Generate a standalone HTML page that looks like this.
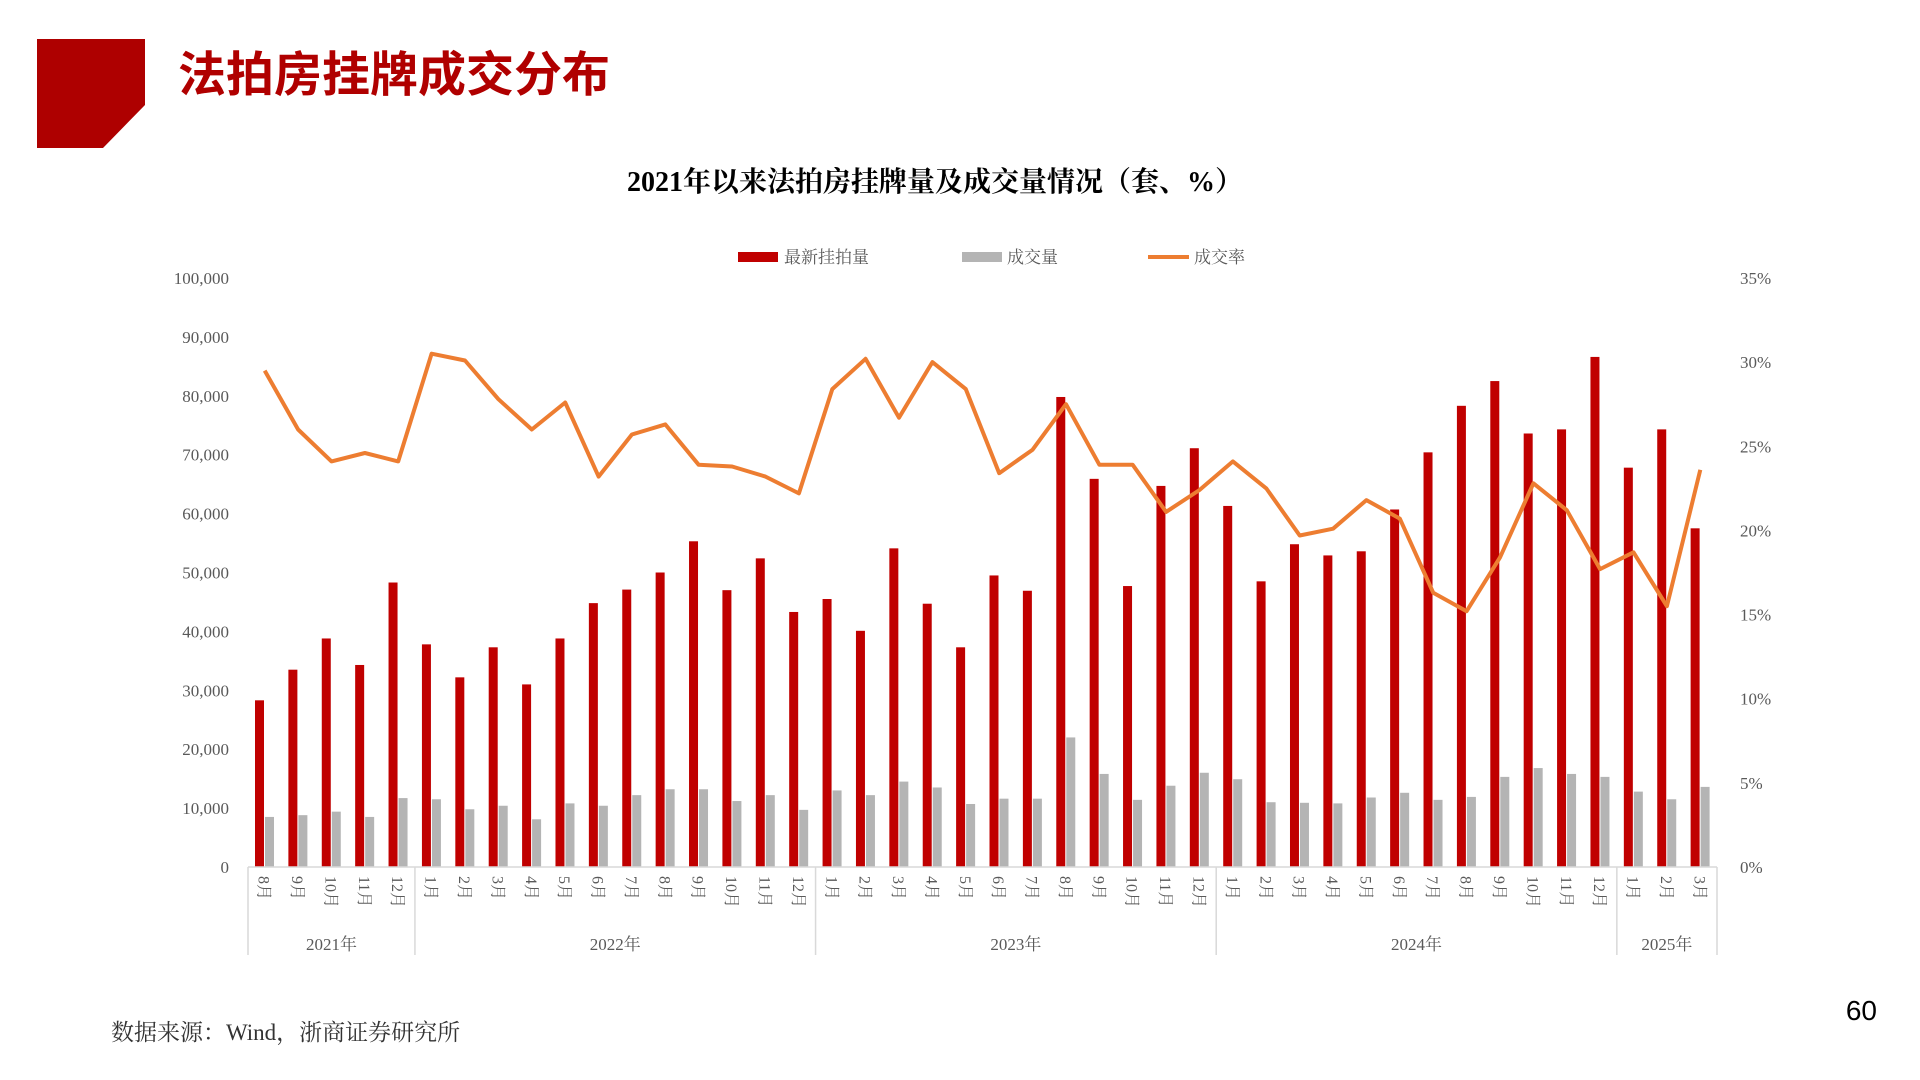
<!DOCTYPE html>
<html><head><meta charset="utf-8"><style>
html,body{margin:0;padding:0;background:#fff;}
body{width:1920px;height:1080px;position:relative;overflow:hidden;font-family:"Liberation Serif","Noto Serif CJK SC",serif;}
</style></head><body>
<svg id="s" width="1920" height="1080" xmlns="http://www.w3.org/2000/svg" style="position:absolute;left:0;top:0">
<polygon points="37,39 145,39 145,105 103,148 37,148" fill="#AE0000"/>
<text x="178" y="91" font-family="Liberation Sans,Noto Sans CJK SC,sans-serif" font-weight="bold" font-size="48" fill="#B00000">法拍房挂牌成交分布</text>
<text x="935" y="191" text-anchor="middle" font-family="Liberation Serif,Noto Serif CJK SC,serif" font-weight="bold" font-size="28" fill="#000">2021年以来法拍房挂牌量及成交量情况（套、%）</text>
<rect x="738" y="252" width="40" height="10" fill="#C00000"/>
<text x="784" y="263" font-size="17" fill="#595959">最新挂拍量</text>
<rect x="962" y="252" width="40" height="10" fill="#B4B4B4"/>
<text x="1007" y="263" font-size="17" fill="#595959">成交量</text>
<line x1="1148" y1="257" x2="1189" y2="257" stroke="#ED7D31" stroke-width="4"/>
<text x="1194" y="263" font-size="17" fill="#595959">成交率</text>
<text x="111" y="1040" font-size="23" fill="#333">数据来源：Wind，浙商证券研究所</text>
<text x="1877" y="1020" text-anchor="end" font-family="Liberation Sans,sans-serif" font-size="28" fill="#000">60</text>
<g id="c"></g>
</svg>
<script>
var red=[28300,33500,38800,34300,48300,37800,32200,37300,31000,38800,44800,47100,50000,55300,47000,52400,43300,45500,40100,54100,44700,37300,49500,46900,79800,65900,47700,64700,71100,61300,48500,54800,52900,53600,60700,70400,78300,82500,73600,74300,86600,67800,74300,57500];
var gray=[8500,8800,9400,8500,11700,11500,9800,10400,8100,10800,10400,12200,13200,13200,11200,12200,9700,13000,12200,14500,13500,10700,11600,11600,22000,15800,11400,13800,16000,14900,11000,10900,10800,11800,12600,11400,11900,15300,16800,15800,15300,12800,11500,13600];
var rate=[29.5,26,24.1,24.6,24.1,30.5,30.1,27.8,26,27.6,23.2,25.7,26.3,23.9,23.8,23.2,22.2,28.4,30.2,26.7,30,28.4,23.4,24.8,27.5,23.9,23.9,21.1,22.4,24.1,22.5,19.7,20.1,21.8,20.7,16.3,15.2,18.4,22.8,21.2,17.7,18.7,15.5,23.6];
var months=[8,9,10,11,12];for(var y=0;y<3;y++)for(var m=1;m<=12;m++)months.push(m);months.push(1,2,3);
var x0=248,x1=1717,n=44,per=(x1-x0)/n,yb=867,yt=278,h=yb-yt;
var o='';
for(var i=0;i<=10;i++){var yy=yb-h*i/10;o+='<text x="229" y="'+(yy+6)+'" text-anchor="end" font-size="17" fill="#595959">'+(i==0?'0':(i*10)+',000')+'</text>';}
for(var i=0;i<=7;i++){var yy=yb-h*i/7;o+='<text x="1740" y="'+(yy+6)+'" font-size="17" fill="#595959">'+(i*5)+'%</text>';}
for(var i=0;i<n;i++){var cx=x0+per*i;
var rh=red[i]/100000*h,gh=gray[i]/100000*h;
o+='<rect x="'+(cx+7)+'" y="'+(yb-rh)+'" width="9" height="'+rh+'" fill="#C00000"/>';
o+='<rect x="'+(cx+17)+'" y="'+(yb-gh)+'" width="9" height="'+gh+'" fill="#B4B4B4"/>';
var mx=cx+per/2;
o+='<text transform="translate('+(mx-6)+',876) rotate(90)" font-size="16" fill="#595959">'+months[i]+'月</text>';}
o+='<line x1="'+x0+'" y1="'+yb+'" x2="'+x1+'" y2="'+yb+'" stroke="#D9D9D9" stroke-width="1.5"/>';
var groups=[[0,5,'2021年'],[5,17,'2022年'],[17,29,'2023年'],[29,41,'2024年'],[41,44,'2025年']];
var seps=[0,5,17,29,41,44];
seps.forEach(function(k){var xx=x0+per*k;o+='<line x1="'+xx+'" y1="'+yb+'" x2="'+xx+'" y2="955" stroke="#D9D9D9" stroke-width="1.5"/>';});
groups.forEach(function(g){var xx=x0+per*(g[0]+g[1])/2;o+='<text x="'+xx+'" y="950" text-anchor="middle" font-size="17" fill="#595959">'+g[2]+'</text>';});
var pts=rate.map(function(r,i){return (x0+per*(i+0.5)).toFixed(1)+','+(yb-r/35*h).toFixed(1);}).join(' ');
o+='<polyline points="'+pts+'" fill="none" stroke="#ED7D31" stroke-width="4" stroke-linejoin="round"/>';
document.getElementById('c').innerHTML=o;
</script>
</body></html>
